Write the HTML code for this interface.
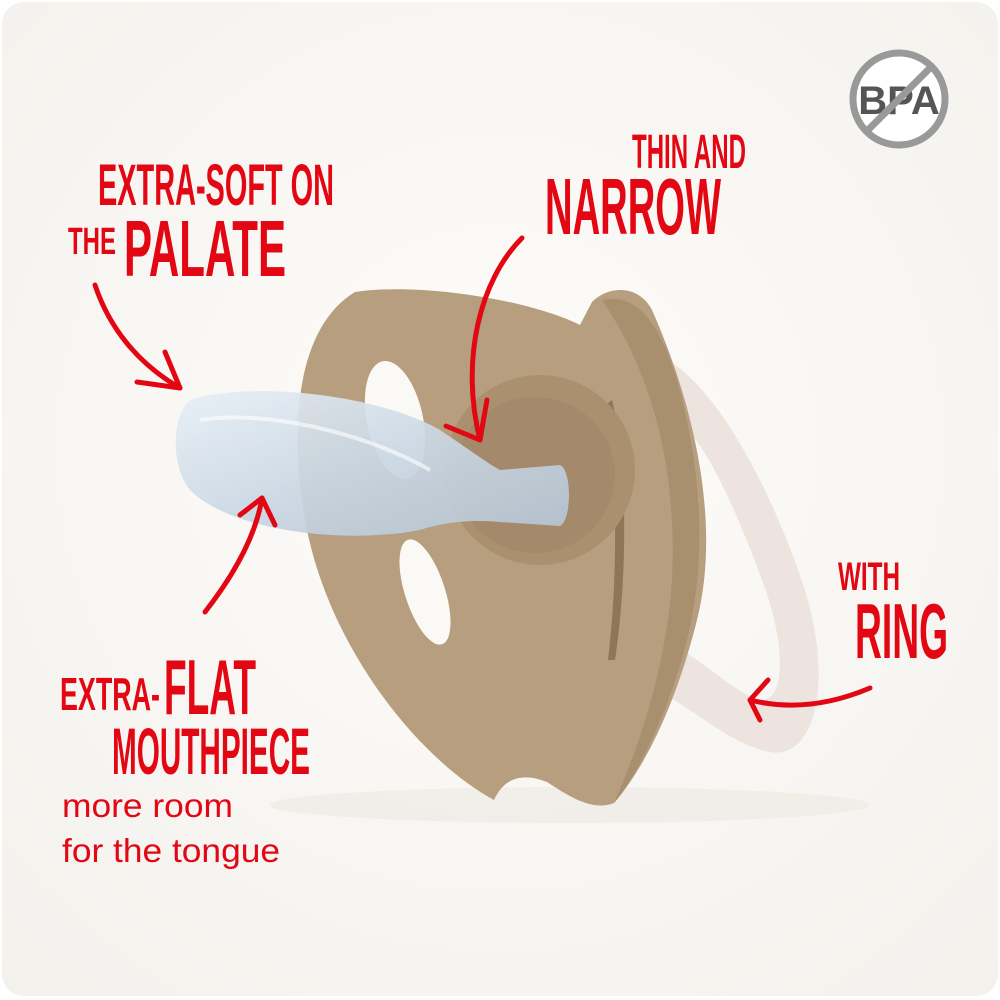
<!DOCTYPE html>
<html><head><meta charset="utf-8"><style>
html,body{margin:0;padding:0;background:#fff}
svg{display:block}
.r{fill:#e30613;font-family:"Liberation Sans Narrow","Liberation Sans",sans-serif;font-weight:bold}
.n{fill:#e30613;font-family:"Liberation Sans",sans-serif}
</style></head><body>
<svg width="1000" height="1000" viewBox="0 0 1000 1000">
<defs>
<radialGradient id="bg" cx="0.5" cy="0.45" r="0.75">
<stop offset="0" stop-color="#fdfcfa"/><stop offset="1" stop-color="#f3f1ec"/>
</radialGradient>
<linearGradient id="nip" x1="0" y1="0" x2="1" y2="1">
<stop offset="0" stop-color="#e8eff6"/><stop offset="0.5" stop-color="#c9d7e3"/><stop offset="1" stop-color="#b4c4d3"/>
</linearGradient>
</defs>
<rect x="0" y="0" width="1000" height="1000" fill="#fff"/>
<rect x="2" y="2" width="996" height="994" rx="22" fill="url(#bg)"/>
<ellipse cx="570" cy="805" rx="300" ry="18" fill="#ece9e3" opacity="0.6"/>
<!-- ring -->
<path d="M655,355 C705,370 765,470 805,590 C835,690 812,760 770,752 C730,745 690,705 655,690 L660,640 C700,655 730,690 758,700 C788,705 785,640 762,580 C732,500 700,425 660,408 Z" fill="#ede4df"/>
<!-- shield -->
<path d="M355,292 C420,282 530,300 580,325 L592,302 C610,284 640,286 652,310 C692,400 722,520 697,620 C677,700 647,765 614,803 C592,812 567,795 547,782 C522,772 504,778 494,800 C420,760 330,650 306,525 C290,440 292,330 355,292 Z" fill="#b69e7e"/>
<path d="M602,300 C640,292 662,330 677,380 C702,470 707,560 687,640 C672,700 642,770 614,803 C642,740 667,660 672,580 C677,480 657,380 602,300 Z" fill="#a88f6e"/>
<path d="M612,400 C625,450 630,560 615,660 L608,660 C620,560 615,460 606,405 Z" fill="#8f7658"/>
<ellipse cx="540" cy="470" rx="95" ry="95" fill="#ab9070"/>
<ellipse cx="535" cy="475" rx="80" ry="78" fill="#a4896b"/>
<!-- holes -->
<ellipse cx="395" cy="420" rx="28" ry="60" transform="rotate(-12 395 420)" fill="#faf9f6"/>
<ellipse cx="425" cy="592" rx="20" ry="55" transform="rotate(-18 425 592)" fill="#faf9f6"/>
<!-- nipple -->
<path d="M190,400 C250,380 380,395 440,430 C470,450 490,465 500,470 L560,465 C572,470 572,520 560,526 L500,522 C480,520 450,520 420,530 C340,545 230,530 190,490 C170,465 172,415 190,400 Z" fill="url(#nip)" opacity="0.92"/>
<path d="M200,420 C260,410 360,430 430,470" stroke="#fff" stroke-width="4" fill="none" opacity="0.6"/>
<!-- arrows -->
<g stroke="#e30613" stroke-width="5" fill="none" stroke-linecap="round" stroke-linejoin="round">
<path d="M95,285 C110,330 140,365 180,388"/><path d="M137,382 L180,388 L165,352"/>
<path d="M522,238 C480,280 460,360 480,440"/><path d="M446,426 L480,440 L487,400"/>
<path d="M205,612 C230,580 255,540 262,498"/><path d="M240,515 L262,498 L275,525"/>
<path d="M870,688 C830,705 790,710 750,700"/><path d="M768,680 L750,700 L760,720"/>
</g>
<!-- text -->
<text class="r" x="98" y="205" font-size="58" textLength="236" lengthAdjust="spacingAndGlyphs">EXTRA-SOFT ON</text>
<text class="r" x="68" y="254" font-size="38" textLength="48" lengthAdjust="spacingAndGlyphs">THE</text>
<text class="r" x="124" y="276" font-size="80" textLength="162" lengthAdjust="spacingAndGlyphs">PALATE</text>
<text class="r" x="632" y="168" font-size="48" textLength="114" lengthAdjust="spacingAndGlyphs">THIN AND</text>
<text class="r" x="545" y="234" font-size="80" textLength="176" lengthAdjust="spacingAndGlyphs">NARROW</text>
<text class="r" x="838" y="590" font-size="40" textLength="62" lengthAdjust="spacingAndGlyphs">WITH</text>
<text class="r" x="855" y="658" font-size="78" textLength="93" lengthAdjust="spacingAndGlyphs">RING</text>
<text class="r" x="60" y="710" font-size="46" textLength="100" lengthAdjust="spacingAndGlyphs">EXTRA-</text>
<text class="r" x="164" y="714" font-size="78" textLength="92" lengthAdjust="spacingAndGlyphs">FLAT</text>
<text class="r" x="112" y="774" font-size="66" textLength="198" lengthAdjust="spacingAndGlyphs">MOUTHPIECE</text>
<text class="n" x="62" y="817" font-size="33" textLength="171" lengthAdjust="spacingAndGlyphs">more room</text>
<text class="n" x="62" y="862" font-size="33" textLength="218" lengthAdjust="spacingAndGlyphs">for the tongue</text>
<!-- BPA -->
<circle cx="899" cy="99" r="46" fill="#fff" stroke="#999" stroke-width="7"/>
<text x="899" y="114" text-anchor="middle" font-family="Liberation Sans,sans-serif" font-weight="bold" font-size="40" fill="#555">BPA</text>
<line x1="867" y1="131" x2="931" y2="67" stroke="#999" stroke-width="7"/>
</svg>
</body></html>
